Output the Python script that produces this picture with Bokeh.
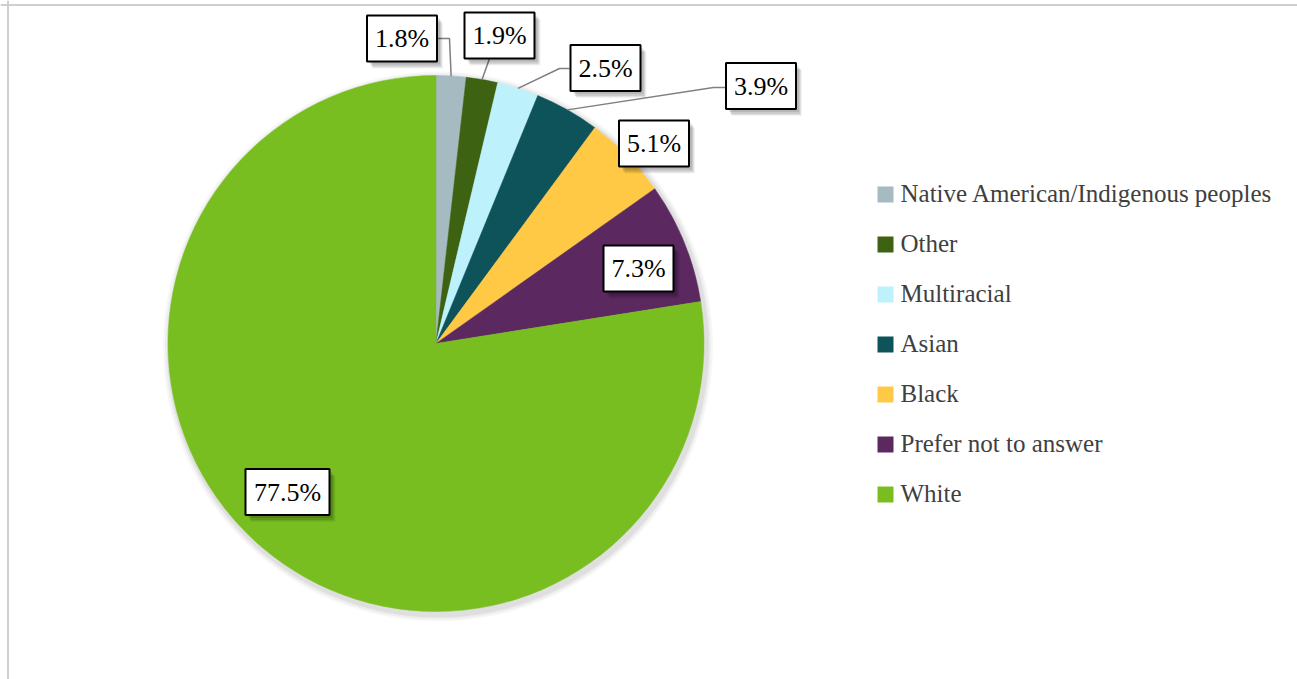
import math
from bokeh.plotting import figure
from bokeh.models import Range1d, Span
from bokeh.core.properties import value
from bokeh.embed import file_html
from bokeh.resources import INLINE

# ---- data ----
categories = ["Native American/Indigenous peoples", "Other", "Multiracial", "Asian",
              "Black", "Prefer not to answer", "White"]
percentages = [1.8, 1.9, 2.5, 3.9, 5.1, 7.3, 77.5]
colors = ["#A5BAC1", "#3C6212", "#BDF2FD", "#0F535A", "#FFC845", "#5B2960", "#78BE21"]
labels = [f"{v}%" for v in percentages]

# ---- layout (screen px) ----
W, H = 1297, 679


def Y(sy):
    return 679 - sy


CX, CY, R = 435.5, 343.0, 268.0
label_centers = [(401.5, 38), (499, 35), (605, 67.5), (760.5, 85.5),
                 (653.5, 143), (638, 268), (287, 491.5)]
# leader lines: (elbow, attach) for outside labels
leaders = {0: [(449, 38), (436, 38)],
           1: [(489, 58), (489, 58)],
           2: [(559, 68), (569, 68)],
           3: [(713, 87), (725, 87)]}

p = figure(width=W, height=H, x_range=Range1d(0, W), y_range=Range1d(679 - H, 679),
           output_backend="svg", toolbar_location=None, min_border=0)
p.axis.visible = False
p.grid.visible = False
p.outline_line_color = None
p.background_fill_color = "white"
p.border_fill_color = "white"

# frame lines (left, top)
p.add_layout(Span(location=7.5, dimension="height", line_color="#CFCFCF", line_width=2))
p.add_layout(Span(location=Y(4.5), dimension="width", line_color="#CFCFCF", line_width=2))

# pie shadow
for dr, a in [(7, 0.03), (5, 0.04), (3, 0.06)]:
    p.circle(x=[CX + 2], y=[Y(CY + 3)], radius=R + dr, fill_color="#000000",
             fill_alpha=a, line_color=None)

# wedges
total = sum(percentages)
starts, ends, mids = [], [], []
cum = 0.0
for v in percentages:
    a0 = math.pi / 2 - 2 * math.pi * cum / total
    cum += v
    a1 = math.pi / 2 - 2 * math.pi * cum / total
    starts.append(a0)
    ends.append(a1)
    mids.append((a0 + a1) / 2)

p.wedge(x=[CX] * len(percentages), y=[Y(CY)] * len(percentages), radius=R,
        start_angle=starts, end_angle=ends, direction="clock",
        fill_color=colors, line_color=colors, line_width=0.5)

# leader lines
for i, (elbow, attach) in leaders.items():
    ax = CX + R * math.cos(mids[i])
    ay = Y(CY) + R * math.sin(mids[i])
    xs = [ax, elbow[0], attach[0]]
    ys = [ay, Y(elbow[1]), Y(attach[1])]
    p.line(xs, ys, line_color="#7F7F7F", line_width=1.5)

# label boxes
bx = [c[0] for c in label_centers]
by = [Y(c[1]) for c in label_centers]
bw = [14 + 14 * len(t) for t in labels]
bh = [46] * len(labels)
for (ox, oy, a) in [(6, 7, 0.05), (5, 6, 0.07), (4, 5, 0.09), (3, 3, 0.10)]:
    p.rect(x=[x + ox for x in bx], y=[y - oy for y in by], width=bw, height=bh,
           fill_color="#000000", fill_alpha=a, line_color=None)
p.rect(x=bx, y=by, width=bw, height=bh, fill_color="white", line_color="black",
       line_width=2)
p.text(x=bx, y=by, text=labels, text_font=value("Liberation Serif"),
       text_font_size="26px", text_align="center", text_baseline="middle",
       text_color="black")

# legend
lx, ly0, ldy = 885, 194, 50
leg_y = [Y(ly0 + ldy * i) for i in range(len(categories))]
p.rect(x=[lx] * len(categories), y=leg_y, width=16, height=16, fill_color=colors,
       line_color=None)
p.text(x=[lx + 15] * len(categories), y=[y + 1 for y in leg_y], text=categories,
       text_font=value("Liberation Serif"), text_font_size="25px",
       text_align="left", text_baseline="middle", text_color="#404040")

open("out.html", "w").write(file_html(p, INLINE))
